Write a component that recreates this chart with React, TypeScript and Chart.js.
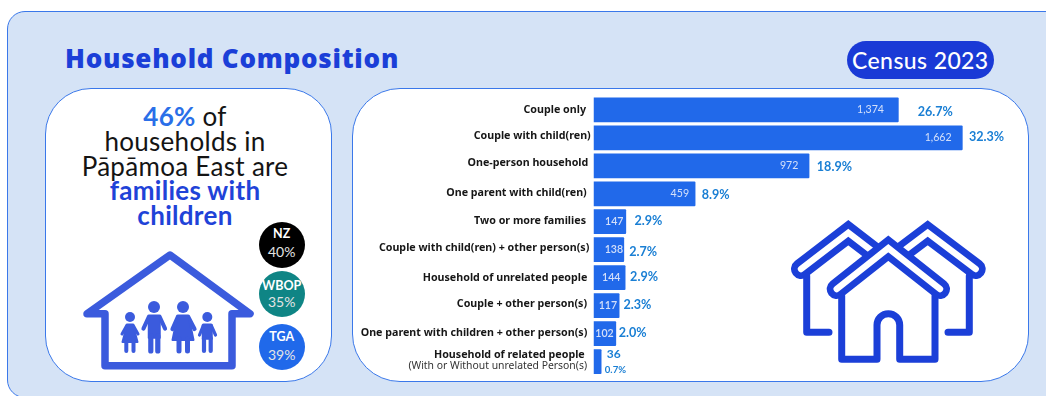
import { useEffect, useRef } from "react";
import { Chart, registerables } from "chart.js";

Chart.register(...registerables);

const categories = [
  "Couple only",
  "Couple with child(ren)",
  "One-person household",
  "One parent with child(ren)",
  "Two or more families",
  "Couple with child(ren) + other person(s)",
  "Household of unrelated people",
  "Couple + other person(s)",
  "One parent with children + other person(s)",
  "Household of related people",
];
const households = [1374, 1662, 972, 459, 147, 138, 144, 117, 102, 36];
const shares = ["26.7%", "32.3%", "18.9%", "8.9%", "2.9%", "2.7%", "2.9%", "2.3%", "2.0%", "0.7%"];
const lastCategoryNote = "(With or Without unrelated Person(s)";

const comparisons = [
  { name: "NZ", share: "40%", fill: "#000000", cy: 245, nameY: 234, shareY: 252 },
  { name: "WBOP", share: "35%", fill: "#0f8585", cy: 293.7, nameY: 285.7, shareY: 302 },
  { name: "TGA", share: "39%", fill: "#2069ea", cy: 346.7, nameY: 336.7, shareY: 355 },
];

// Hand-placed annotation offsets, one per row, in pixels.
const nameGap = [7.5, 2.8, 5.2, 6.8, 7.5, 4.2, 6.2, 6.5, 6.2, 8.8];
const nameShift = [0, -2, -3.3, -1, -0.7, -1.4, 0, -1.3, -1, -7];
const countInset = [14.7, 11, 11, 6.4, 2.7, 1, 5, 2.4, 2.4];
const shareGap = [19, 6.3, 7.4, 6.3, 8.3, 5, 4.6, 4, 2.6, 3.3];
const shareShift = [1.7, -1.3, 0.7, 1, -1, 2, -0.7, -0.6, -1, 8.3];

const BODY_FONT = "Lato, sans-serif";
const BAR_FONT = '"Noto Sans", sans-serif';
const BLUE_BAR = "#2169ea";
const ROYAL = "#1b3fd8";
const ICON = "#3b5bdd";

const rowAnnotations = {
  id: "rowAnnotations",
  afterDatasetsDraw(chart: any) {
    const { ctx, scales } = chart;
    const base = scales.x.getPixelForValue(0);
    ctx.save();
    ctx.textBaseline = "middle";
    households.forEach((value, i) => {
      const end = scales.x.getPixelForValue(value);
      const mid = scales.y.getPixelForValue(i);

      ctx.textAlign = "right";
      ctx.fillStyle = "#161616";
      ctx.font = `700 10.7px ${BAR_FONT}`;
      ctx.fillText(categories[i], base - nameGap[i], mid + nameShift[i]);
      if (i === households.length - 1) {
        ctx.font = `400 10.4px ${BAR_FONT}`;
        ctx.fillStyle = "#333333";
        ctx.fillText(lastCategoryNote, base - 6.5, mid + 5);
      }

      const count = value.toLocaleString("en-US");
      if (i < countInset.length) {
        ctx.textAlign = "right";
        ctx.fillStyle = "#d4e0fa";
        ctx.font = `${value < 1000 && i > 3 ? 600 : 400} 10.6px ${BODY_FONT}`;
        ctx.fillText(count, end - countInset[i], mid);
      } else {
        ctx.textAlign = "left";
        ctx.fillStyle = "#1a7fd4";
        ctx.font = `700 12px ${BODY_FONT}`;
        ctx.fillText(count, end + 5.3, mid - 7);
      }

      ctx.textAlign = "left";
      ctx.fillStyle = "#1a7fd4";
      ctx.font = `700 ${i < countInset.length ? 12.6 : 9.6}px ${BODY_FONT}`;
      ctx.fillText(shares[i], end + shareGap[i], mid + shareShift[i]);
    });
    ctx.restore();
  },
};

function FamilyHouse() {
  return (
    <svg width="1046" height="396" style={{ position: "absolute", left: 0, top: 0 }}>
      <polygon
        points="87,313.7 170,255 250,313.7 232,313.7 232,365.7 105,365.7 105,313.7"
        fill="none"
        stroke={ICON}
        strokeWidth="7.5"
        strokeLinejoin="round"
      />
      <g fill={ICON} stroke={ICON} strokeLinecap="round" strokeLinejoin="round">
        {/* girl */}
        <circle cx="130" cy="317" r="5" stroke="none" />
        <polyline points="122,334 127,325 133,325 138,334" fill="none" strokeWidth="3" />
        <polygon points="127,325 133,325 137.5,342 122.5,342" strokeWidth="2" />
        <path d="M126.3 342V351M133.5 342V351" strokeWidth="4" fill="none" />
        {/* man */}
        <circle cx="154" cy="307" r="6" stroke="none" />
        <polyline points="143.5,328.5 149,316.5 159.5,316.5 165,328.5" fill="none" strokeWidth="4.2" />
        <rect x="148.5" y="316" width="11.5" height="22" strokeWidth="1.5" />
        <path d="M150.8 336V351M157.8 336V351" strokeWidth="5.2" fill="none" />
        {/* woman */}
        <circle cx="183" cy="307" r="6" stroke="none" />
        <polyline points="172.5,329 178,316.5 188,316.5 194.5,329" fill="none" strokeWidth="4.2" />
        <polygon points="177.5,316 188.5,316 193.5,340 172.5,340" strokeWidth="2" />
        <path d="M179 339V351M187.5 339V351" strokeWidth="5" fill="none" />
        {/* boy */}
        <circle cx="207.3" cy="317" r="5" stroke="none" />
        <polyline points="199.5,335 203.5,325 211,325 215.5,335" fill="none" strokeWidth="3.2" />
        <rect x="202.5" y="325" width="9.5" height="14" strokeWidth="1.5" />
        <path d="M204 338V351M210.7 338V351" strokeWidth="4.2" fill="none" />
      </g>
    </svg>
  );
}

function Neighbourhood() {
  const roof = (points: string) => (
    <>
      <polyline points={points} fill="none" stroke={ROYAL} strokeWidth="20" strokeLinecap="round" strokeLinejoin="miter" />
      <polyline points={points} fill="none" stroke="#ffffff" strokeWidth="6.4" strokeLinecap="round" strokeLinejoin="miter" />
    </>
  );
  return (
    <svg width="1046" height="396" style={{ position: "absolute", left: 0, top: 0 }}>
      {roof("801,269 848.3,232.7 893.3,267.3")}
      {roof("975.7,269 927.7,232.7 882,267.3")}
      <g fill="none" stroke={ROYAL} strokeWidth="7" strokeLinecap="round" strokeLinejoin="round">
        <polyline points="806.7,276 806.7,332.3 829,332.3" />
        <polyline points="969.3,276 969.3,332.3 948,332.3" />
      </g>
      <polygon points="836.7,290 888.3,248 940,290 935,359 842,359" fill="#ffffff" />
      {roof("836.7,289 888.3,248.2 940,289")}
      <path
        d="M841.7 296V359.3H877V325A11.35 11.35 0 0 1 899.7 325V359.3H935V296"
        fill="none"
        stroke={ROYAL}
        strokeWidth="7"
        strokeLinejoin="round"
        strokeLinecap="round"
      />
    </svg>
  );
}

export default function App() {
  const canvasRef = useRef<HTMLCanvasElement | null>(null);

  useEffect(() => {
    const chart = new Chart(canvasRef.current as HTMLCanvasElement, {
      type: "bar",
      data: {
        labels: categories,
        datasets: [
          {
            data: households,
            backgroundColor: BLUE_BAR,
            borderRadius: 1,
            categoryPercentage: 1,
            barPercentage: 0.885,
          },
        ],
      },
      options: {
        indexAxis: "y",
        animation: false,
        responsive: false,
        layout: { padding: { left: 593.5, right: 52.7, top: 95.9, bottom: 20.5 } },
        plugins: { legend: { display: false }, tooltip: { enabled: false } },
        scales: {
          x: { display: false, min: 0, max: 1800 },
          y: { display: false },
        },
      },
      plugins: [rowAnnotations],
    });
    return () => chart.destroy();
  }, []);

  const panelBorder = "1.5px solid #3a78ea";
  return (
    <div style={{ position: "fixed", left: 0, top: 0, width: 1046, height: 396, overflow: "hidden", background: "#fff" }}>
      <div
        style={{
          position: "absolute",
          left: 7,
          top: 11,
          width: 1060,
          height: 387,
          boxSizing: "border-box",
          background: "#d5e3f6",
          border: panelBorder,
          borderRadius: 18,
        }}
      />
      <div
        style={{
          position: "absolute",
          left: 65,
          top: 41,
          fontFamily: '"Open Sans", sans-serif',
          fontWeight: 800,
          fontSize: 26,
          letterSpacing: 0.75,
          lineHeight: "34px",
          whiteSpace: "nowrap",
          color: ROYAL,
        }}
      >
        Household Composition
      </div>
      <div
        style={{
          position: "absolute",
          left: 846.7,
          top: 40.7,
          width: 147.3,
          height: 38,
          borderRadius: 19,
          background: "#1a3ad6",
          color: "#fff",
          fontFamily: BODY_FONT,
          fontSize: 23,
          fontWeight: 500,
          letterSpacing: 0.4,
          lineHeight: "38px",
          textAlign: "center",
          whiteSpace: "nowrap",
        }}
      >
        Census 2023
      </div>

      <div
        style={{
          position: "absolute",
          left: 45,
          top: 87.5,
          width: 287,
          height: 294,
          boxSizing: "border-box",
          background: "#fff",
          border: panelBorder,
          borderRadius: 46,
        }}
      />
      <div
        style={{
          position: "absolute",
          left: 352,
          top: 87.5,
          width: 677,
          height: 294,
          boxSizing: "border-box",
          background: "#fff",
          border: panelBorder,
          borderRadius: 48,
        }}
      />

      <div
        style={{
          position: "absolute",
          left: 55,
          top: 104,
          width: 260,
          textAlign: "center",
          fontFamily: BODY_FONT,
          fontSize: 26,
          letterSpacing: 0.3,
          lineHeight: "24.8px",
          color: "#141414",
        }}
      >
        <span style={{ color: "#2a6fe8", fontWeight: 700 }}>46%</span> of
        <br />
        households in
        <br />
        Pāpāmoa East are
        <br />
        <span style={{ color: "#1f43d8", fontWeight: 700 }}>
          families with
          <br />
          children
        </span>
      </div>

      {comparisons.map((c) => (
        <div key={c.name}>
          <div
            style={{
              position: "absolute",
              left: 258.7,
              top: c.cy - 23,
              width: 46,
              height: 46,
              borderRadius: "50%",
              background: c.fill,
            }}
          />
          <div
            style={{
              position: "absolute",
              left: 258.7,
              top: c.nameY - 8,
              width: 46,
              textAlign: "center",
              color: "#fff",
              fontFamily: BODY_FONT,
              fontSize: 12.5,
              fontWeight: 700,
              lineHeight: "16px",
            }}
          >
            {c.name}
          </div>
          <div
            style={{
              position: "absolute",
              left: 258.7,
              top: c.shareY - 8,
              width: 46,
              textAlign: "center",
              color: "#e4e4e4",
              fontFamily: BODY_FONT,
              fontSize: 14,
              lineHeight: "16px",
            }}
          >
            {c.share}
          </div>
        </div>
      ))}

      <FamilyHouse />
      <Neighbourhood />

      <canvas
        ref={canvasRef}
        width={1046}
        height={396}
        style={{ position: "absolute", left: 0, top: 0, width: 1046, height: 396 }}
      />
    </div>
  );
}
